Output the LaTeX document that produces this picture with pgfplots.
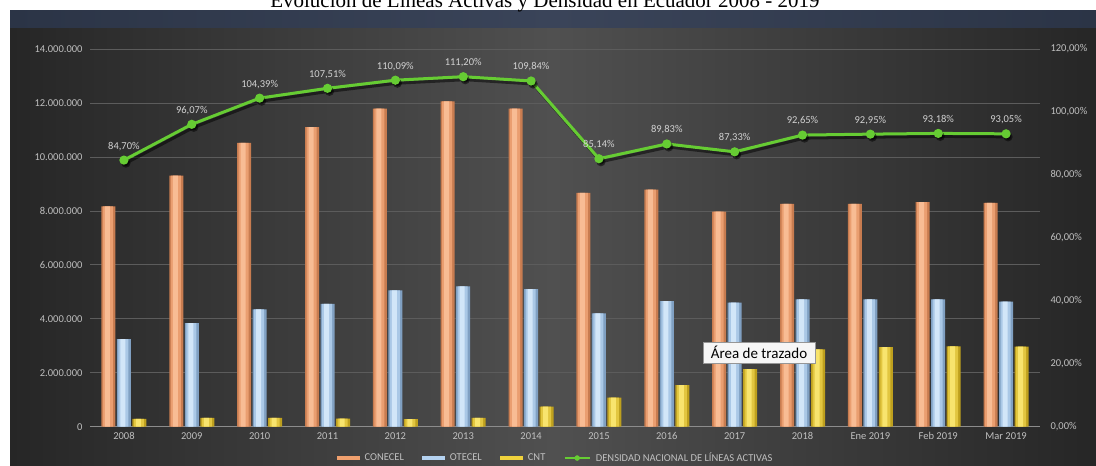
\documentclass[border=0pt]{standalone}
\usepackage{pgfplots}
\pgfplotsset{compat=1.18}
\usepackage{fontspec}
\setmainfont{Carlito}
\newfontfamily\titlefont{Liberation Serif}
\definecolor{bgedge}{RGB}{38,38,38}
\definecolor{bgmid}{RGB}{80,80,80}
\definecolor{bandedge}{RGB}{43,52,70}
\definecolor{bandmid}{RGB}{58,68,89}
\definecolor{gridgray}{RGB}{92,92,92}
\definecolor{axisgray}{RGB}{140,140,140}
\definecolor{tickgray}{RGB}{192,192,192}
\definecolor{labgray}{RGB}{210,210,210}
\definecolor{linegreen}{RGB}{102,204,51}
\definecolor{oEdge}{RGB}{200,124,80}
\definecolor{oMid}{RGB}{234,158,112}
\definecolor{oLight}{RGB}{248,188,148}
\definecolor{bEdge}{RGB}{128,160,194}
\definecolor{bMid}{RGB}{170,200,230}
\definecolor{bLight}{RGB}{210,230,248}
\definecolor{yEdge}{RGB}{190,160,30}
\definecolor{yMid}{RGB}{226,198,64}
\definecolor{yLight}{RGB}{248,228,110}
\definecolor{swO}{RGB}{240,160,110}
\definecolor{swB}{RGB}{180,210,240}
\definecolor{swY}{RGB}{240,210,60}
\definecolor{tipbg}{RGB}{246,246,246}
\definecolor{tipborder}{RGB}{150,150,150}

\pgfplotstableread{
x conecel otecel cnt dens
0 8170000 3250000 290000 84.70
1 9310000 3840000 330000 96.07
2 10520000 4350000 330000 104.39
3 11100000 4550000 300000 107.51
4 11790000 5050000 280000 110.09
5 12060000 5200000 330000 111.20
6 11790000 5100000 740000 109.84
7 8670000 4200000 1080000 85.14
8 8790000 4650000 1540000 89.83
9 7970000 4600000 2130000 87.33
10 8260000 4720000 2870000 92.65
11 8260000 4720000 2950000 92.95
12 8320000 4720000 2980000 93.18
13 8300000 4640000 2970000 93.05
}\datatable

\begin{document}
\begin{tikzpicture}
\path[use as bounding box] (0,0) rectangle (1096pt,466pt);
\fill[white] (0,0) rectangle (1096pt,466pt);
\shade[left color=bgedge, right color=bgedge, middle color=bgmid] (10pt,0pt) rectangle (1096pt,438pt);
\shade[left color=bandedge, right color=bandedge, middle color=bandmid] (10pt,438pt) rectangle (1096pt,455pt);
\node[font=\titlefont\fontsize{21}{24}\selectfont, anchor=base, text=black, inner sep=0pt] at (545pt,458pt) {Evolución de Líneas Activas y Densidad en Ecuador 2008 - 2019};

\begin{axis}[
  at={(90pt,39.3pt)}, anchor=south west, scale only axis,
  width=950pt, height=377.7pt,
  xmin=-0.5, xmax=13.5, ymin=0, ymax=14000000,
  ybar, bar width=14pt,
  xtick={0,...,13},
  xticklabels={2008,2009,2010,2011,2012,2013,2014,2015,2016,2017,2018,Ene 2019,Feb 2019,Mar 2019},
  ytick={0,2000000,4000000,6000000,8000000,10000000,12000000,14000000},
  yticklabels={0,2.000.000,4.000.000,6.000.000,8.000.000,10.000.000,12.000.000,14.000.000},
  scaled y ticks=false,
  axis x line*=bottom, axis y line*=left,
  y axis line style={draw=none},
  x axis line style={draw=axisgray, line width=0.8pt},
  major tick length=0pt,
  ymajorgrids, grid style={draw=gridgray, line width=0.7pt},
  ticklabel style={font=\fontsize{10.5}{12}\selectfont, text=tickgray},
  yticklabel style={xshift=-4pt},
  xticklabel style={yshift=-2pt},
  legend style={at={(0.49,-0.083)}, anchor=center, draw=none, fill=none,
    text=tickgray, font=\fontsize{10.5}{12}\selectfont, legend columns=4,
    /tikz/every odd column/.append style={column sep=3pt},
    /tikz/every even column/.append style={column sep=16pt}},
]
% CONECEL
\addplot[draw=none, fill=oEdge, bar shift=-15.5pt,
  legend image code/.code={\fill[swO] (0pt,-1.8pt) rectangle (23pt,1.8pt);}]
  table[x=x, y=conecel] {\datatable};
\addlegendentry{CONECEL}
% OTECEL
\addplot[draw=none, fill=bEdge, bar shift=0pt,
  legend image code/.code={\fill[swB] (0pt,-1.8pt) rectangle (23pt,1.8pt);}]
  table[x=x, y=otecel] {\datatable};
\addlegendentry{OTECEL}
% CNT
\addplot[draw=none, fill=yEdge, bar shift=15.5pt,
  legend image code/.code={\fill[swY] (0pt,-1.8pt) rectangle (23pt,1.8pt);}]
  table[x=x, y=cnt] {\datatable};
\addlegendentry{CNT}
\addlegendimage{legend image code/.code={\draw[linegreen, line width=2.5pt] (0pt,0pt) -- (25pt,0pt); \fill[linegreen] (12.5pt,0pt) circle (2.5pt);}}
\addlegendentry{DENSIDAD NACIONAL DE LÍNEAS ACTIVAS}
% shading layers
\addplot[forget plot, draw=none, fill=oMid, bar shift=-16pt, bar width=10pt] table[x=x, y=conecel] {\datatable};
\addplot[forget plot, draw=none, fill=oLight, bar shift=-16.5pt, bar width=5pt] table[x=x, y=conecel] {\datatable};
\addplot[forget plot, draw=none, fill=bMid, bar shift=-0.5pt, bar width=10pt] table[x=x, y=otecel] {\datatable};
\addplot[forget plot, draw=none, fill=bLight, bar shift=-1pt, bar width=5pt] table[x=x, y=otecel] {\datatable};
\addplot[forget plot, draw=none, fill=yMid, bar shift=15pt, bar width=10pt] table[x=x, y=cnt] {\datatable};
\addplot[forget plot, draw=none, fill=yLight, bar shift=14.5pt, bar width=5pt] table[x=x, y=cnt] {\datatable};
\end{axis}

\begin{axis}[
  at={(90pt,39.3pt)}, anchor=south west, scale only axis,
  width=950pt, height=377.7pt,
  xmin=-0.5, xmax=13.5, ymin=0, ymax=120,
  axis x line=none, axis y line*=right,
  y axis line style={draw=none},
  major tick length=0pt,
  /pgf/number format/assume math mode=true,
  ytick={0,20,40,60,80,100,120},
  yticklabel={\pgfmathprintnumber[use comma,fixed,fixed zerofill,precision=2]{\tick}\%},
  yticklabel style={font=\fontsize{10.5}{12}\selectfont, text=tickgray, anchor=west, xshift=7pt},
  clip=false,
]
\addplot[black, opacity=0.5, line width=3pt, mark=*, mark size=3pt, xshift=2pt, yshift=-3pt]
  table[x=x, y=dens] {\datatable};
\addplot[linegreen, line width=3pt, mark=*, mark size=3pt, mark options={fill=linegreen},
  nodes near coords={\pgfmathprintnumber[use comma,fixed,fixed zerofill,precision=2,assume math mode=true]{\pgfplotspointmeta}\%},
  every node near coord/.append style={anchor=center, yshift=14pt, text=labgray, font=\fontsize{10.5}{12}\selectfont}]
  table[x=x, y=dens] {\datatable};
\end{axis}

\node[fill=tipbg, draw=tipborder, line width=0.5pt, font=\fontsize{15}{17}\selectfont, text=black,
  minimum width=112pt, minimum height=21pt, inner sep=2pt] at (759pt,113.5pt) {Área de trazado};
\end{tikzpicture}
\end{document}
